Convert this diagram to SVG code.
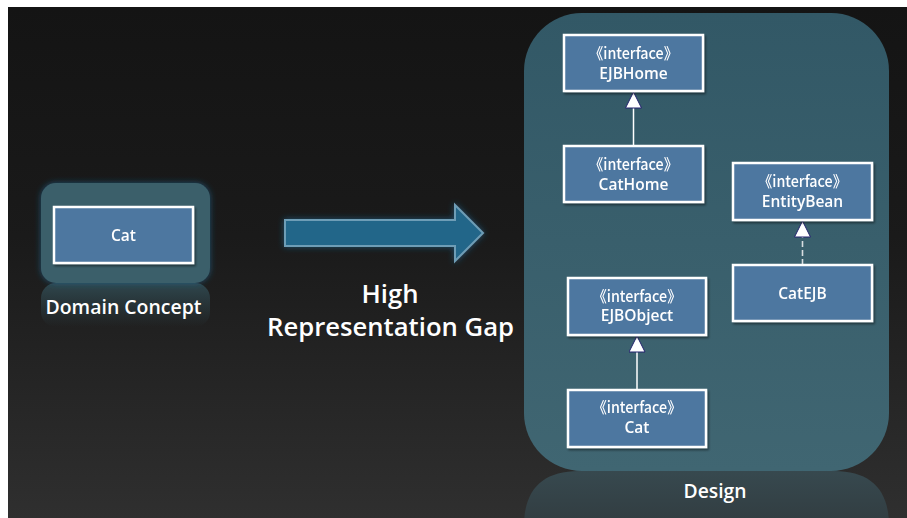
<svg xmlns="http://www.w3.org/2000/svg" width="907" height="518" viewBox="0 0 907 518">
  <defs>
    <linearGradient id="bg" x1="0" y1="0" x2="0" y2="1">
      <stop offset="0" stop-color="#141414"/>
      <stop offset="0.45" stop-color="#1a1a1a"/>
      <stop offset="1" stop-color="#2f2f2f"/>
    </linearGradient>
    <linearGradient id="panelFill" x1="0" y1="0" x2="0" y2="1">
      <stop offset="0" stop-color="#325866"/>
      <stop offset="1" stop-color="#406672"/>
    </linearGradient>
    <linearGradient id="panelReflect" x1="0" y1="0" x2="0" y2="1">
      <stop offset="0" stop-color="#37494f"/>
      <stop offset="1" stop-color="#313b3f"/>
    </linearGradient>
    <linearGradient id="domainReflect" x1="0" y1="0" x2="0" y2="1">
      <stop offset="0" stop-color="#2f474e" stop-opacity="1"/>
      <stop offset="1" stop-color="#2f474e" stop-opacity="0"/>
    </linearGradient>
    <filter id="glow" x="-20%" y="-30%" width="140%" height="160%">
      <feGaussianBlur in="SourceAlpha" stdDeviation="3" result="b"/>
      <feFlood flood-color="#1f5c82" flood-opacity="0.8"/>
      <feComposite in2="b" operator="in" result="g"/>
      <feMerge><feMergeNode in="g"/><feMergeNode in="SourceGraphic"/></feMerge>
    </filter>
    <filter id="shadow" x="-10%" y="-10%" width="125%" height="130%">
      <feDropShadow dx="1.5" dy="2" stdDeviation="1.2" flood-color="#000" flood-opacity="0.45"/>
    </filter>
    <!-- hollow generalization head, drawn pointing along +x -->
    <marker id="inherit" viewBox="0 0 17 17" refX="16.5" refY="8.5" markerWidth="17" markerHeight="17" markerUnits="userSpaceOnUse" orient="auto">
      <path d="M16.5 8.5 L0.5 16.5 L0.5 0.5 Z" fill="#ffffff" stroke="#23236e" stroke-width="1"/>
    </marker>
    <style>
      .node rect { fill: #4e77a0; stroke: #ffffff; stroke-width: 2.5; }
      .lbl { font-family: "Open Sans", "Noto Sans", "Liberation Sans", sans-serif; fill: #ffffff; text-anchor: middle; font-weight: 600; }
      .nt { font-size: 15.5px; }
      .st { font-family: "Noto Sans CJK KR", "Noto Sans", sans-serif; font-size: 15.5px; font-weight: 500; }
      .big { font-size: 25px; font-weight: 600; }
      .cap { font-size: 19px; }
      .edge { stroke: #ffffff; stroke-width: 1.5; fill: none; }
      .dashed { stroke: #d8dde0; stroke-width: 1.6; stroke-dasharray: 6 3; fill: none; }
    </style>
  </defs>

  <!-- page -->
  <rect x="0" y="0" width="907" height="518" fill="#ffffff"/>
  <rect x="8" y="7" width="899" height="511" fill="url(#bg)"/>

  <!-- domain concept block -->
  <g id="domain-concept">
    <rect x="41" y="283" width="169" height="44" rx="15" fill="url(#domainReflect)"/>
    <rect x="41" y="183" width="169" height="100" rx="15" fill="#3b5f6a" filter="url(#glow)"/>
    <g id="domain-cat" class="node" filter="url(#shadow)">
      <rect x="54" y="207" width="139" height="56"/>
      <text class="lbl nt" x="123.5" y="241" font-size="16">Cat</text>
    </g>
    <text class="lbl cap" x="123.5" y="314" textLength="156" lengthAdjust="spacingAndGlyphs">Domain Concept</text>
  </g>

  <!-- transition arrow -->
  <g id="gap-arrow">
    <path d="M285 220 L455 220 L455 205 L483 233 L455 261 L455 246 L285 246 Z" fill="#236689" stroke="#6e9db6" stroke-width="2" filter="url(#glow)"/>
    <text class="lbl big" x="390" y="303" textLength="57" lengthAdjust="spacingAndGlyphs">High</text>
    <text class="lbl big" x="390.5" y="336" textLength="247" lengthAdjust="spacingAndGlyphs">Representation Gap</text>
  </g>

  <!-- design panel -->
  <g id="design-panel">
    <path d="M524 530 L889 530 L889 526 C889 490 871 471 834 471 L579 471 C542 471 524 490 524 526 Z" fill="url(#panelReflect)"/>
    <rect x="524" y="13" width="365" height="458" rx="58" fill="url(#panelFill)"/>
    <text class="lbl cap" x="715" y="498" textLength="63" lengthAdjust="spacingAndGlyphs">Design</text>
  </g>

  <!-- connectors -->
  <g id="connectors">
    <line class="edge" x1="633.5" y1="146" x2="633.5" y2="92" marker-end="url(#inherit)"/>
    <line class="edge" x1="637" y1="390" x2="637" y2="336" marker-end="url(#inherit)"/>
    <line class="dashed" x1="802.5" y1="265" x2="802.5" y2="237"/>
    <line x1="802.5" y1="240" x2="802.5" y2="221" stroke="#ffffff" stroke-width="0.01" marker-end="url(#inherit)"/>
  </g>

  <!-- classes -->
  <g id="ejbhome" class="node" filter="url(#shadow)">
    <rect x="564" y="35" width="139" height="56"/>
    <text class="lbl st" x="633.5" y="59" textLength="89" lengthAdjust="spacingAndGlyphs">《interface》</text>
    <text class="lbl nt" x="633.5" y="79">EJBHome</text>
  </g>
  <g id="cathome" class="node" filter="url(#shadow)">
    <rect x="564" y="146" width="139" height="56"/>
    <text class="lbl st" x="633.5" y="170" textLength="89" lengthAdjust="spacingAndGlyphs">《interface》</text>
    <text class="lbl nt" x="633.5" y="190">CatHome</text>
  </g>
  <g id="entitybean" class="node" filter="url(#shadow)">
    <rect x="733" y="163" width="139" height="57"/>
    <text class="lbl st" x="802.5" y="187" textLength="89" lengthAdjust="spacingAndGlyphs">《interface》</text>
    <text class="lbl nt" x="802.5" y="207">EntityBean</text>
  </g>
  <g id="catejb" class="node" filter="url(#shadow)">
    <rect x="733" y="265" width="139" height="56"/>
    <text class="lbl nt" x="802.5" y="298.5">CatEJB</text>
  </g>
  <g id="ejbobject" class="node" filter="url(#shadow)">
    <rect x="568" y="278" width="138" height="57"/>
    <text class="lbl st" x="637" y="302" textLength="89" lengthAdjust="spacingAndGlyphs">《interface》</text>
    <text class="lbl nt" x="637" y="321">EJBObject</text>
  </g>
  <g id="cat-interface" class="node" filter="url(#shadow)">
    <rect x="568" y="390" width="138" height="57"/>
    <text class="lbl st" x="637" y="413" textLength="89" lengthAdjust="spacingAndGlyphs">《interface》</text>
    <text class="lbl nt" x="637" y="433">Cat</text>
  </g>
</svg>
